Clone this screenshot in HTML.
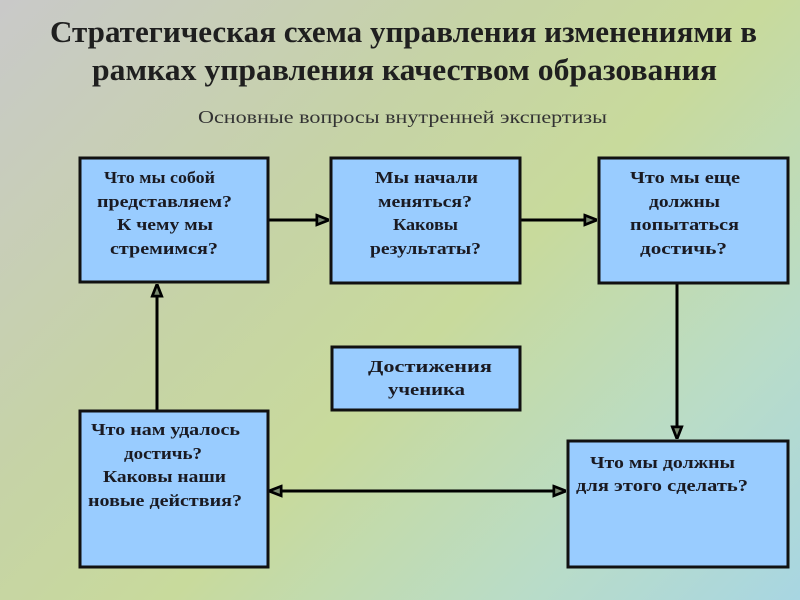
<!DOCTYPE html>
<html><head><meta charset="utf-8"><style>
html,body{margin:0;padding:0;width:800px;height:600px;overflow:hidden}
body{background:linear-gradient(135deg,#c9c9c9 0%,#c6d3a6 35%,#c8da9c 55%,#b9dcc8 80%,#a8d6e2 100%)}
svg{position:absolute;left:0;top:0}
text{font-family:"Liberation Serif",serif}
.t{font-weight:bold;font-size:31px;fill:#1f1f1f}
.b{font-weight:bold;font-size:17px;fill:#1a1a22}
</style></head><body>
<svg width="800" height="600" viewBox="0 0 800 600">
<defs>
<marker id="a" viewBox="0 0 10 10" refX="10" refY="5" markerWidth="4.5" markerHeight="4.5" orient="auto-start-reverse">
<path d="M1,1.5 L10,5 L1,8.5 Z" fill="#7a8a70" stroke="#000" stroke-width="2"/>
</marker>
</defs>
<text class="t" x="50" y="42" textLength="707" lengthAdjust="spacingAndGlyphs">Стратегическая схема управления изменениями в</text>
<text class="t" x="92" y="80" textLength="625" lengthAdjust="spacingAndGlyphs">рамках управления качеством образования</text>
<text x="198" y="123" font-size="18" fill="#333" textLength="409" lengthAdjust="spacingAndGlyphs">Основные вопросы внутренней экспертизы</text>
<g stroke="#000" stroke-width="3" fill="none">
<line x1="268" y1="220" x2="329" y2="220" marker-end="url(#a)"/>
<line x1="520" y1="220" x2="597" y2="220" marker-end="url(#a)"/>
<line x1="677" y1="283" x2="677" y2="439" marker-end="url(#a)"/>
<line x1="157" y1="410" x2="157" y2="284" marker-end="url(#a)"/>
<line x1="269" y1="491" x2="566" y2="491" marker-start="url(#a)" marker-end="url(#a)"/>
</g>
<g stroke="#111" stroke-width="3" fill="#99ccff">
<rect x="80" y="158" width="188" height="124"/>
<rect x="331" y="158" width="189" height="125"/>
<rect x="599" y="158" width="189" height="125"/>
<rect x="332" y="347" width="188" height="63"/>
<rect x="80" y="411" width="188" height="156"/>
<rect x="568" y="441" width="220" height="126"/>
</g>
<g>
<text class="b" x="104" y="183" textLength="111" lengthAdjust="spacingAndGlyphs">Что мы собой</text>
<text class="b" x="97" y="207" textLength="135" lengthAdjust="spacingAndGlyphs">представляем?</text>
<text class="b" x="117" y="230" textLength="96" lengthAdjust="spacingAndGlyphs">К чему мы</text>
<text class="b" x="110" y="254" textLength="108" lengthAdjust="spacingAndGlyphs">стремимся?</text>
<text class="b" x="375" y="183" textLength="103" lengthAdjust="spacingAndGlyphs">Мы начали</text>
<text class="b" x="378" y="207" textLength="94" lengthAdjust="spacingAndGlyphs">меняться?</text>
<text class="b" x="393" y="230" textLength="65" lengthAdjust="spacingAndGlyphs">Каковы</text>
<text class="b" x="370" y="254" textLength="111" lengthAdjust="spacingAndGlyphs">результаты?</text>
<text class="b" x="630" y="183" textLength="110" lengthAdjust="spacingAndGlyphs">Что мы еще</text>
<text class="b" x="649" y="207" textLength="71" lengthAdjust="spacingAndGlyphs">должны</text>
<text class="b" x="630" y="230" textLength="109" lengthAdjust="spacingAndGlyphs">попытаться</text>
<text class="b" x="640" y="254" textLength="87" lengthAdjust="spacingAndGlyphs">достичь?</text>
<text class="b" x="368" y="372" textLength="124" lengthAdjust="spacingAndGlyphs">Достижения</text>
<text class="b" x="388" y="395" textLength="77" lengthAdjust="spacingAndGlyphs">ученика</text>
<text class="b" x="91" y="435" textLength="149" lengthAdjust="spacingAndGlyphs">Что нам удалось</text>
<text class="b" x="124" y="459" textLength="78" lengthAdjust="spacingAndGlyphs">достичь?</text>
<text class="b" x="103" y="482" textLength="123" lengthAdjust="spacingAndGlyphs">Каковы наши</text>
<text class="b" x="88" y="506" textLength="154" lengthAdjust="spacingAndGlyphs">новые действия?</text>
<text class="b" x="590" y="468" textLength="145" lengthAdjust="spacingAndGlyphs">Что мы должны</text>
<text class="b" x="576" y="491" textLength="172" lengthAdjust="spacingAndGlyphs">для этого сделать?</text>
</g>
</svg>
</body></html>
